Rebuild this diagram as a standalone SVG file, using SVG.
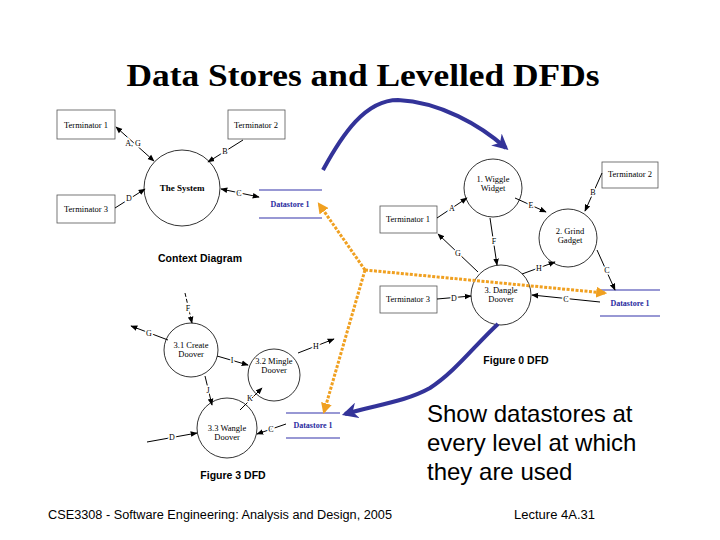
<svg xmlns="http://www.w3.org/2000/svg" width="720" height="540" viewBox="0 0 720 540">
<defs>
<marker id="ah" viewBox="0 0 10 10" refX="9" refY="5" markerWidth="7" markerHeight="7" orient="auto-start-reverse" markerUnits="userSpaceOnUse"><path d="M0,1 L10,5 L0,9 z" fill="#000"/></marker>
<marker id="bh" viewBox="0 0 10 10" refX="8" refY="5" markerWidth="16" markerHeight="16" orient="auto" markerUnits="userSpaceOnUse"><path d="M0,0 L10,5 L0,10 L3,5 z" fill="#333399"/></marker>
<marker id="oh" viewBox="0 0 10 10" refX="8" refY="5" markerWidth="11" markerHeight="11" orient="auto" markerUnits="userSpaceOnUse"><path d="M0,0 L10,5 L0,10 z" fill="#f0a020"/></marker>
</defs>
<style>
.term{fill:#fff;stroke:#555;stroke-width:0.8}
.proc{fill:#fff;stroke:#000;stroke-width:0.8}
.t{font-family:"Liberation Serif","Times New Roman",serif;font-size:8.5px;fill:#000;text-anchor:middle}
.tb{font-family:"Liberation Serif","Times New Roman",serif;font-size:9px;font-weight:bold;fill:#000;text-anchor:middle}
.lab{font-family:"Liberation Serif","Times New Roman",serif;font-size:8px;fill:#000;text-anchor:middle;stroke:#fff;stroke-width:3;paint-order:stroke}
.ds{stroke:#3333aa;stroke-width:1.2}
.dst{font-family:"Liberation Serif","Times New Roman",serif;font-size:8px;font-weight:bold;fill:#2a2aa0;text-anchor:middle}
.fig{font-family:"Liberation Sans",Arial,sans-serif;font-size:10.5px;font-weight:bold;fill:#000;text-anchor:middle}
.c{stroke:#000;stroke-width:1;fill:none;marker-end:url(#ah)}
.cb{stroke:#000;stroke-width:1;fill:none;marker-end:url(#ah);marker-start:url(#ah)}
.blue{stroke:#333399;stroke-width:4;fill:none;marker-end:url(#bh)}
.ora{stroke:#f0a020;stroke-width:3;fill:none;stroke-dasharray:3 1.5;marker-end:url(#oh)}
</style>
<rect width="720" height="540" fill="#fff"/>
<text x="363" y="86" font-family="Liberation Serif,'Times New Roman',serif" font-size="32" font-weight="bold" text-anchor="middle" fill="#000" textLength="473" lengthAdjust="spacingAndGlyphs">Data Stores and Levelled DFDs</text>

<!-- Context diagram -->
<g id="ctx-term1"><rect class="term" x="57" y="110" width="58" height="29"/><text class="t" x="86" y="128">Terminator 1</text></g>
<g id="ctx-term2"><rect class="term" x="228" y="110" width="57" height="29"/><text class="t" x="256" y="128">Terminator 2</text></g>
<g id="ctx-term3"><rect class="term" x="57" y="195" width="58" height="28"/><text class="t" x="86" y="212">Terminator 3</text></g>
<g id="ctx-system"><circle class="proc" cx="182" cy="188" r="38"/><text class="tb" x="182" y="191">The System</text></g>
<g id="ctx-ds"><line class="ds" x1="259" y1="190" x2="322" y2="190"/><line class="ds" x1="259" y1="218" x2="322" y2="218"/><text class="dst" x="290" y="207">Datastore 1</text></g>
<text class="fig" x="200" y="262">Context Diagram</text>

<!-- Figure 0 -->
<g id="f0-wiggle"><circle class="proc" cx="493" cy="188" r="29"/><text class="t" x="493" y="182">1. Wiggle</text><text class="t" x="493" y="191">Widget</text></g>
<g id="f0-grind"><circle class="proc" cx="568" cy="238" r="29"/><text class="t" x="570" y="234">2. Grind</text><text class="t" x="570" y="243">Gadget</text></g>
<g id="f0-dangle"><circle class="proc" cx="501" cy="295" r="30"/><text class="t" x="501" y="293">3. Dangle</text><text class="t" x="501" y="302">Doover</text></g>
<g id="f0-term2"><rect class="term" x="602" y="162" width="56" height="26"/><text class="t" x="630" y="177">Terminator 2</text></g>
<g id="f0-term1"><rect class="term" x="380" y="206" width="57" height="27"/><text class="t" x="408" y="222">Terminator 1</text></g>
<g id="f0-term3"><rect class="term" x="380" y="286" width="57" height="27"/><text class="t" x="408" y="302">Terminator 3</text></g>
<g id="f0-ds"><line class="ds" x1="600" y1="290" x2="660" y2="290"/><line class="ds" x1="600" y1="316" x2="660" y2="316"/><text class="dst" x="630" y="306">Datastore 1</text></g>
<text class="fig" x="516" y="364">Figure 0 DFD</text>

<!-- Figure 3 -->
<g id="f3-create"><circle class="proc" cx="191" cy="350" r="27"/><text class="t" x="191" y="348">3.1 Create</text><text class="t" x="191" y="357">Doover</text></g>
<g id="f3-mingle"><circle class="proc" cx="274" cy="375" r="26"/><text class="t" x="274" y="364">3.2 Mingle</text><text class="t" x="274" y="373">Doover</text></g>
<g id="f3-wangle"><circle class="proc" cx="227" cy="428" r="30"/><text class="t" x="227" y="431">3.3 Wangle</text><text class="t" x="227" y="440">Doover</text></g>
<g id="f3-ds"><line class="ds" x1="286" y1="413" x2="340" y2="413"/><line class="ds" x1="286" y1="438" x2="340" y2="438"/><text class="dst" x="313" y="428">Datastore 1</text></g>
<text class="fig" x="233" y="479">Figure 3 DFD</text>

<g id="connectors">
<!-- context -->
<line class="cb" x1="116" y1="127" x2="154" y2="161"/><text class="lab" x="133" y="146">A, G</text>
<line class="c" x1="243" y1="140" x2="208" y2="162"/><text class="lab" x="225" y="154">B</text>
<line class="c" x1="115" y1="208" x2="145" y2="189"/><text class="lab" x="129" y="201">D</text>
<line class="cb" x1="221" y1="189" x2="259" y2="197"/><text class="lab" x="239" y="196">C</text>
<!-- fig 0 -->
<line class="c" x1="437" y1="218" x2="467" y2="198"/><text class="lab" x="452" y="211">A</text>
<line class="c" x1="490" y1="218" x2="497" y2="265"/><text class="lab" x="494" y="244">F</text>
<line class="c" x1="515" y1="198" x2="546" y2="212"/><text class="lab" x="531" y="208">E</text>
<line class="c" x1="478" y1="272" x2="438" y2="234"/><text class="lab" x="458" y="256">G</text>
<line class="c" x1="522" y1="274" x2="555" y2="262"/><text class="lab" x="539" y="271">H</text>
<line class="c" x1="602" y1="173" x2="585" y2="211"/><text class="lab" x="593" y="195">B</text>
<line class="c" x1="597" y1="250" x2="615" y2="290"/><text class="lab" x="607" y="273">C</text>
<line class="c" x1="437" y1="299" x2="471" y2="296"/><text class="lab" x="454" y="301">D</text>
<line class="c" x1="600" y1="302" x2="532" y2="295"/><text class="lab" x="566" y="302">C</text>
<!-- fig 3 -->
<line class="c" x1="185" y1="293" x2="192" y2="323" stroke-dasharray="4 2"/><text class="lab" x="188" y="311">F</text>
<line class="c" x1="168" y1="340" x2="131" y2="326"/><text class="lab" x="149" y="336">G</text>
<line class="c" x1="217" y1="356" x2="248" y2="365"/><text class="lab" x="232" y="363">I</text>
<line class="c" x1="298" y1="353" x2="334" y2="339"/><text class="lab" x="316" y="349">H</text>
<line class="c" x1="205" y1="376" x2="212" y2="405"/><text class="lab" x="208" y="393">J</text>
<line class="c" x1="240" y1="410" x2="262" y2="388"/><text class="lab" x="250" y="401">K</text>
<line class="c" x1="147" y1="442" x2="197" y2="433"/><text class="lab" x="172" y="440">D</text>
<line class="c" x1="286" y1="424" x2="257" y2="434"/><text class="lab" x="271" y="432">C</text>
<!-- blue -->
<path class="blue" d="M323,170 C342,135 365,100 398,100 C440,102 480,125 506,148"/>
<path class="blue" d="M498,324 C475,345 455,372 430,388 C405,402 375,405 345,414"/>
<!-- orange -->
<line class="ora" x1="365" y1="270" x2="319" y2="204"/>
<line class="ora" x1="365" y1="270" x2="605" y2="293"/>
<line class="ora" x1="365" y1="270" x2="324" y2="412"/>
</g>

<text font-family="Liberation Sans,Arial,sans-serif" font-size="24" fill="#000"><tspan x="427" y="422">Show datastores at</tspan><tspan x="427" y="451">every level at which</tspan><tspan x="427" y="480">they are used</tspan></text>
<text x="48" y="519" font-family="Liberation Sans,Arial,sans-serif" font-size="12" fill="#000" textLength="344" lengthAdjust="spacingAndGlyphs">CSE3308 - Software Engineering: Analysis and Design, 2005</text>
<text x="514" y="519" font-family="Liberation Sans,Arial,sans-serif" font-size="12" fill="#000" textLength="81" lengthAdjust="spacingAndGlyphs">Lecture 4A.31</text>
</svg>
